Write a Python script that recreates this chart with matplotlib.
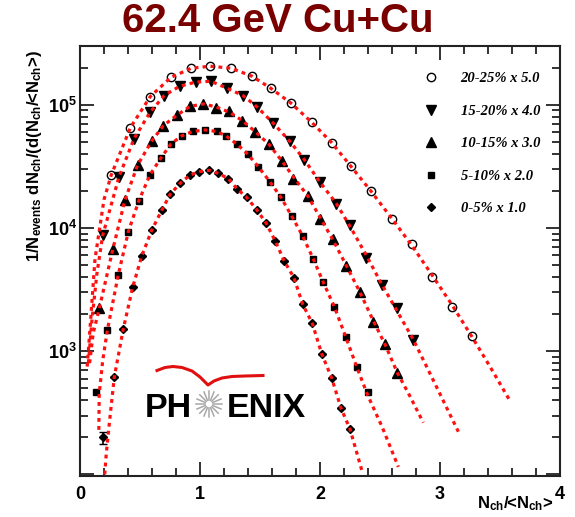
import numpy as np
import matplotlib
matplotlib.use('Agg')
import matplotlib.pyplot as plt
import matplotlib.ticker as tkr

# data, already multiplied by the scale factor
x_20_25 = [0.26, 0.42, 0.586, 0.757, 0.928, 1.086, 1.258, 1.433, 1.59, 1.757, 1.93,
           2.097, 2.256, 2.425, 2.597, 2.77, 2.93, 3.097, 3.264]
y_20_25 = [26850, 65300, 116700, 166700, 198200, 205600, 198200, 170600, 136100, 103300,
           72300, 49300, 31800, 19900, 11900, 7430, 3970, 2290, 1320]

x_15_20 = [0.189, 0.325, 0.45, 0.583, 0.702, 0.83, 0.965, 1.09, 1.222, 1.358, 1.475,
           1.611, 1.747, 1.87, 2.0, 2.136, 2.253, 2.386, 2.514, 2.644, 2.778]
y_15_20 = [8690, 26000, 53000, 86700, 118900, 141300, 152800, 155200, 136800, 118900, 96200,
           70800, 50700, 35800, 23550, 15800, 10640, 5680, 3450, 2260, 1240]

x_10_15 = [0.161, 0.275, 0.375, 0.48, 0.597, 0.694, 0.806, 0.917, 1.028, 1.136, 1.245,
           1.354, 1.462, 1.576, 1.685, 1.778, 1.9, 2.0, 2.108, 2.217, 2.33, 2.44, 2.542, 2.645]
y_10_15 = [2230, 6810, 16900, 32400, 50700, 67600, 82200, 97000, 101600, 94200, 89100,
           74300, 60300, 47600, 34700, 25000, 18100, 11900, 8170, 4940, 3050, 1730, 1135, 667]

x_5_10 = [0.133, 0.228, 0.319, 0.403, 0.49, 0.583, 0.672, 0.758, 0.847, 0.939, 1.042,
          1.139, 1.217, 1.306, 1.397, 1.486, 1.583, 1.675, 1.764, 1.856, 1.944, 2.028,
          2.119, 2.214, 2.306, 2.397]
y_5_10 = [467, 1480, 4170, 9350, 16600, 27000, 36700, 48100, 55900, 60700, 62500,
          60700, 55900, 48100, 39800, 31400, 23700, 17700, 12500, 8590, 5610, 3610,
          2300, 1310, 746, 465]

x_0_5 = [0.189, 0.286, 0.361, 0.439, 0.514, 0.597, 0.681, 0.75, 0.833, 0.917, 0.994,
         1.078, 1.153, 1.236, 1.306, 1.389, 1.472, 1.55, 1.625, 1.703, 1.783, 1.856,
         1.936, 2.014, 2.097, 2.175, 2.25]
y_0_5 = [200, 618, 1520, 3300, 5900, 9550, 13900, 18700, 23000, 26900, 28600,
         29400, 27700, 25200, 20900, 17700, 14100, 11000, 7910, 5370, 3940, 2400,
         1680, 953, 607, 345, 233]
err_0_5 = [22] + [0] * 26

# red fit curves
fx_20_25 = [0.06, 0.085, 0.125, 0.2, 0.26, 0.42, 0.586, 0.757, 0.928, 1.086, 1.258, 1.433,
            1.59, 1.757, 1.93, 2.097, 2.256, 2.425, 2.597, 2.77, 2.93, 3.097, 3.264, 3.42, 3.58]
fy_20_25 = [750, 1600, 5600, 17000, 26850, 65300, 116700, 166700, 198200, 205600, 198200, 170600,
            136100, 103300, 72300, 49300, 31800, 19900, 12000, 7100, 4200, 2400, 1320, 740, 400]

fx_15_20 = [0.07, 0.1, 0.14, 0.189, 0.325, 0.45, 0.583, 0.702, 0.83, 0.965, 1.09, 1.222,
            1.358, 1.475, 1.611, 1.747, 1.87, 2.0, 2.136, 2.253, 2.386, 2.514, 2.644, 2.778,
            2.96, 3.153]
fy_15_20 = [800, 1800, 4200, 8690, 26000, 53000, 86700, 118900, 141300, 152800, 155200, 136800,
            118900, 96200, 70800, 50700, 35800, 23550, 15800, 10200, 6000, 3500, 2100, 1240,
            540, 222]

fx_10_15 = [0.08, 0.11, 0.161, 0.275, 0.375, 0.48, 0.597, 0.694, 0.806, 0.917, 1.028, 1.136,
            1.245, 1.354, 1.462, 1.576, 1.685, 1.778, 1.9, 2.0, 2.108, 2.217, 2.33, 2.44,
            2.542, 2.645, 2.75, 2.861]
fy_10_15 = [800, 1400, 2230, 6810, 16900, 32400, 50700, 67600, 82200, 97000, 101600, 96000,
            87000, 74300, 60300, 47600, 34700, 26000, 18100, 12200, 8000, 5000, 3050, 1800,
            1135, 667, 430, 263]

fx_5_10 = [0.157, 0.16, 0.19, 0.228, 0.319, 0.403, 0.49, 0.583, 0.672, 0.758, 0.847, 0.939,
           1.042, 1.139, 1.217, 1.306, 1.397, 1.486, 1.583, 1.675, 1.764, 1.856, 1.944,
           2.028, 2.119, 2.214, 2.306, 2.397, 2.52, 2.653]
fy_5_10 = [230, 450, 850, 1480, 4170, 9350, 16600, 27000, 36700, 48100, 55900, 60700,
           62500, 60700, 55900, 48100, 39800, 31400, 23700, 17700, 12500, 8590, 5610,
           3610, 2300, 1310, 746, 440, 240, 115]

fx_0_5 = [0.206, 0.219, 0.247, 0.286, 0.361, 0.439, 0.514, 0.597, 0.681, 0.75, 0.833, 0.917,
          0.994, 1.078, 1.153, 1.236, 1.306, 1.389, 1.472, 1.55, 1.625, 1.703, 1.783,
          1.856, 1.936, 2.014, 2.097, 2.175, 2.25, 2.353]
fy_0_5 = [100, 148, 275, 618, 1520, 3300, 5900, 9550, 13900, 18700, 23000, 26900,
          28600, 29400, 27700, 25200, 20900, 17700, 14100, 11000, 7910, 5370, 3940,
          2400, 1680, 953, 607, 345, 233, 104]

labels = ['20-25% x 5.0', '15-20% x 4.0', '10-15% x 3.0', '5-10% x 2.0', '0-5% x 1.0']


def ylab(v, _):
    # the bottom decade is not labelled in the original
    if v < 500:
        return ''
    return r'$10^{%d}$' % round(np.log10(v))


plt.rcParams['font.family'] = 'Liberation Sans'
plt.rcParams['mathtext.fontset'] = 'custom'
plt.rcParams['mathtext.rm'] = 'Liberation Sans:bold'
plt.rcParams['mathtext.it'] = 'Liberation Sans:bold'
plt.rcParams['mathtext.bf'] = 'Liberation Sans:bold'

fig = plt.figure(figsize=(5.75, 5.17), dpi=100)
ax = fig.add_axes([80 / 575, 41 / 517, 480 / 575, 430 / 517])

fit_style = dict(color='#ff1010', lw=2.3, ls=(0, (1.2, 1.3)), zorder=4)
ax.plot(fx_20_25, fy_20_25, **fit_style)
ax.plot(fx_15_20, fy_15_20, **fit_style)
ax.plot(fx_10_15, fy_10_15, **fit_style)
ax.plot(fx_5_10, fy_5_10, **fit_style)
ax.plot(fx_0_5, fy_0_5, **fit_style)

h1, = ax.plot(x_20_25, y_20_25, 'o', ms=6, mfc='white', mec='black', mew=1.0, ls='none', zorder=3)
h2, = ax.plot(x_15_20, y_15_20, 'v', ms=7, color='black', ls='none', zorder=3)
h3, = ax.plot(x_10_15, y_10_15, '^', ms=6.5, color='black', ls='none', zorder=3)
h4, = ax.plot(x_5_10, y_5_10, 's', ms=5, color='black', ls='none', zorder=3)
ax.errorbar(x_0_5, y_0_5, yerr=err_0_5, fmt='none', ecolor='black', elinewidth=1.2,
            capsize=3, zorder=3)
h5, = ax.plot(x_0_5, y_0_5, 'D', ms=4, color='black', ls='none', zorder=3)

ax.set_yscale('log')
ax.set_xlim(0, 4)
ax.set_ylim(97, 3.0e5)
ax.xaxis.set_major_locator(tkr.MultipleLocator(1))
ax.xaxis.set_minor_locator(tkr.MultipleLocator(0.2))
ax.yaxis.set_major_locator(tkr.LogLocator(base=10, numticks=10))
ax.yaxis.set_major_formatter(tkr.FuncFormatter(ylab))
ax.yaxis.set_minor_locator(tkr.LogLocator(base=10, subs=np.arange(2, 10), numticks=20))
ax.yaxis.set_minor_formatter(tkr.NullFormatter())
ax.tick_params(which='both', direction='in', top=True, right=True, width=1.3, color='#222222')
ax.tick_params(which='major', length=10)
ax.tick_params(which='minor', length=5.5)
ax.tick_params(axis='x', which='major', labelsize=13, pad=7)
ax.tick_params(axis='y', which='major', labelsize=13, pad=2)
for lab in ax.get_xticklabels() + ax.get_yticklabels():
    lab.set_fontweight('bold')
for sp in ax.spines.values():
    sp.set_linewidth(1.5)
    sp.set_color('#222222')

ax.set_xlabel(r'N$_{\rm ch}$/<N$_{\rm ch}$>', fontsize=12, fontweight='bold', ha='right')
ax.xaxis.set_label_coords(0.986, -0.042)
ax.set_ylabel(r'1/N$_{\rm events}$ dN$_{\rm ch}$/(d(N$_{\rm ch}$/<N$_{\rm ch}$>)',
              fontsize=12, fontweight='bold', ha='right')
ax.yaxis.set_label_coords(-0.076, 0.99)

leg = ax.legend([h1, h2, h3, h4, h5], labels, loc='upper left', bbox_to_anchor=(0.72, 0.94),
                frameon=False, handlelength=0.8, handletextpad=1.6, labelspacing=1.33,
                borderpad=0, borderaxespad=0,
                prop={'family': 'Liberation Serif', 'style': 'italic', 'weight': 'bold', 'size': 10.5})

fig.text(0.483, 1 - 21 / 517, '62.4 GeV Cu+Cu', ha='center', va='center', fontsize=29,
         fontweight='bold', color='#7a0000')

# PHENIX logo, drawn in its own pixel-based box
lg = fig.add_axes([135 / 575, (517 - 430) / 517, 180 / 575, 75 / 517])
lg.set_xlim(135, 315)
lg.set_ylim(430, 355)
lg.axis('off')
lg.text(145, 416.7, 'PH', ha='left', va='baseline', fontsize=24.5, fontweight='bold', color='black')
lg.text(227, 416.7, 'ENIX', ha='left', va='baseline', fontsize=24.5, fontweight='bold', color='black')
for a in np.linspace(0, 2 * np.pi, 16, endpoint=False):
    lg.plot([209 + 4 * np.cos(a), 209 + 13 * np.cos(a)], [404 + 4 * np.sin(a), 404 + 13 * np.sin(a)],
            color='#a8a8a8', lw=1.1)
lg.plot([157, 165, 173, 182, 192, 200, 208, 214, 222, 232, 245, 263],
        [370.5, 367.5, 366.5, 367.5, 371, 377, 385, 381, 378, 376.5, 376, 375.5],
        color='#e01010', lw=2.2)

fig.savefig('out.png', dpi=100)
